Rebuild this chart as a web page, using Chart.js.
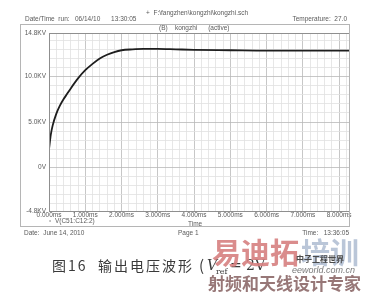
<!DOCTYPE html>
<html>
<head>
<meta charset="utf-8">
<script src="https://cdn.jsdelivr.net/npm/chart.js@4.4.1/dist/chart.umd.min.js"></script>
<style>
  html, body { margin: 0; padding: 0; background: #fff; }
  #wrap { position: relative; width: 367px; height: 292px; }
</style>
</head>
<body>
<div id="wrap"><canvas id="waveChart" width="367" height="292"></canvas></div>
<script>
// -----------------------------------------
// Output voltage waveform (PSpice probe plot)
// -----------------------------------------

// time in ms, voltage in kV
const timeMs = [0, 0.05, 0.1, 0.2, 0.3, 0.4, 0.5, 0.6, 0.8, 1.0, 1.2, 1.4, 1.6, 1.8, 2.0, 2.3, 2.6, 3.0, 3.5, 4.0, 5.0, 6.0, 7.0, 8.0, 8.3];
const voltageKV = [2.0, 3.6, 4.6, 5.9, 6.8, 7.5, 8.1, 8.7, 9.8, 10.7, 11.4, 12.0, 12.4, 12.7, 12.9, 13.0, 13.05, 13.05, 13.0, 12.95, 12.9, 12.85, 12.85, 12.85, 12.85];

// axis labels
const xLabelValues = [0, 1, 2, 3, 4, 5, 6, 7, 8];
const xLabelTexts = ['0.000ms', '1.000ms', '2.000ms', '3.000ms', '4.000ms', '5.000ms', '6.000ms', '7.000ms', '8.000ms'];
const yLabelValues = [-4.8, 0, 5, 10, 14.8];
const yLabelTexts = ['-4.8KV', '0V', '5.0KV', '10.0KV', '14.8KV'];

const seriesName = 'V(C51:C12:2)';

// minor grid positions
const xGrid = [];
for (let i = 0; i <= 41; i++) xGrid.push(+(i * 0.2).toFixed(1));
const yGrid = [-4.8];
for (let v = -4; v <= 14; v++) yGrid.push(v);
yGrid.push(14.8);

const labelFont = { family: "'Liberation Sans', Arial, sans-serif", size: 6.5 };

const gridColor = (isMajor) => isMajor ? '#b9b9b9' : '#e1e1e1';

// page texts, frame and caption
const pagePlugin = {
  id: 'pageText',
  afterDraw(chart) {
    const ctx = chart.ctx;
    const a = chart.chartArea;
    ctx.save();

    // plot border
    ctx.strokeStyle = '#8f8f8f';
    ctx.lineWidth = 1;
    ctx.strokeRect(a.left + 0.5, a.top + 0.5, a.right - a.left - 1, a.bottom - a.top);

    // outer frame
    ctx.strokeStyle = '#b5b5b5';
    ctx.strokeRect(20.5, 24.5, 329, 202);

    ctx.fillStyle = '#5a5a5a';
    ctx.font = "6.5px 'Liberation Sans', Arial, sans-serif";
    ctx.textBaseline = 'middle';
    ctx.textAlign = 'left';
    ctx.fillText('+  F:\\fangzhen\\kongzhi\\kongzhi.sch', 146, 13);
    ctx.fillText('Date/Time  run:   06/14/10      13:30:05', 25, 19);
    ctx.fillText('(B)    kongzhi      (active)', 159, 28);
    ctx.fillText('\u25AB  ' + seriesName, 49, 221);
    ctx.fillText('Time', 188, 224);
    ctx.fillText('Date:  June 14, 2010', 24, 233);
    ctx.fillText('Page 1', 178, 233);
    ctx.textAlign = 'right';
    ctx.fillText('Temperature:  27.0', 347, 19);
    ctx.fillText('Time:   13:36:05', 349, 233);

    // caption
    ctx.textAlign = 'left';
    ctx.textBaseline = 'alphabetic';
    ctx.fillStyle = '#3a3a3a';
    ctx.font = "14px 'Noto Sans CJK SC', sans-serif";
    ctx.letterSpacing = '2px';
    ctx.fillText('图16', 52, 271);
    ctx.fillText('输出电压波形', 98, 271);
    ctx.letterSpacing = '0px';
    ctx.font = "15px 'Noto Sans CJK SC', sans-serif";
    ctx.fillText('(', 199, 271);
    ctx.font = "italic 14px 'DejaVu Serif', serif";
    ctx.fillText('V', 207, 270);
    ctx.font = "8px 'DejaVu Serif', serif";
    ctx.fillText('ref', 216, 274);
    ctx.font = "14px 'DejaVu Serif', serif";
    ctx.fillText('=', 230, 270);
    ctx.fillText('2V', 246, 270);

    // watermark
    ctx.font = "bold 29px 'Noto Sans CJK SC', sans-serif";
    ctx.fillStyle = 'rgba(214, 128, 128, 0.9)';
    ctx.fillText('易迪拓', 212, 264);
    ctx.fillStyle = 'rgba(178, 192, 212, 0.9)';
    ctx.fillText('培训', 301, 264);
    ctx.fillStyle = '#4a4a4a';
    ctx.font = "bold 8px 'Noto Sans CJK SC', sans-serif";
    ctx.fillText('中子工程世界', 296, 262);
    ctx.fillStyle = '#7a7a7a';
    ctx.font = "italic 9px 'Liberation Sans', Arial, sans-serif";
    ctx.fillText('eeworld.com.cn', 292, 273);
    ctx.fillStyle = 'rgba(140, 104, 104, 0.9)';
    ctx.font = "bold 17px 'Noto Sans CJK SC', sans-serif";
    ctx.fillText('射频和天线设计专家', 208, 290);

    ctx.restore();
  }
};

new Chart(document.getElementById('waveChart'), {
  type: 'line',
  data: {
    datasets: [{
      label: seriesName,
      data: timeMs.map((t, i) => ({ x: t, y: voltageKV[i] })),
      borderColor: '#1e1e1e',
      borderWidth: 1.8,
      pointRadius: 0,
      cubicInterpolationMode: 'monotone',
      fill: false
    }]
  },
  options: {
    responsive: false,
    animation: false,
    events: [],
    layout: { padding: { top: 33, right: 17, bottom: 73, left: 0 } },
    plugins: {
      legend: { display: false },
      tooltip: { enabled: false }
    },
    scales: {
      x: {
        type: 'linear',
        min: 0,
        max: 8.3,
        afterBuildTicks: (scale) => { scale.ticks = xGrid.map(v => ({ value: v })); },
        afterFit: (scale) => { scale.height = 8; },
        grid: {
          drawTicks: false,
          color: (c) => gridColor(c.tick && Number.isInteger(c.tick.value)),
          lineWidth: 0.8
        },
        border: { display: false },
        ticks: {
          autoSkip: false,
          maxRotation: 0,
          padding: 0,
          color: '#5a5a5a',
          font: labelFont,
          callback: (v) => {
            const i = xLabelValues.indexOf(v);
            return i >= 0 ? xLabelTexts[i] : '';
          }
        }
      },
      y: {
        min: -4.8,
        max: 14.8,
        afterBuildTicks: (scale) => { scale.ticks = yGrid.map(v => ({ value: v })); },
        afterFit: (scale) => { scale.width = 49; },
        grid: {
          drawTicks: false,
          color: (c) => gridColor(c.tick && c.tick.value % 5 === 0),
          lineWidth: 0.8
        },
        border: { display: false },
        ticks: {
          autoSkip: false,
          padding: 3,
          color: '#5a5a5a',
          font: labelFont,
          callback: (v) => {
            const i = yLabelValues.indexOf(v);
            return i >= 0 ? yLabelTexts[i] : '';
          }
        }
      }
    }
  },
  plugins: [pagePlugin]
});
</script>
</body>
</html>
